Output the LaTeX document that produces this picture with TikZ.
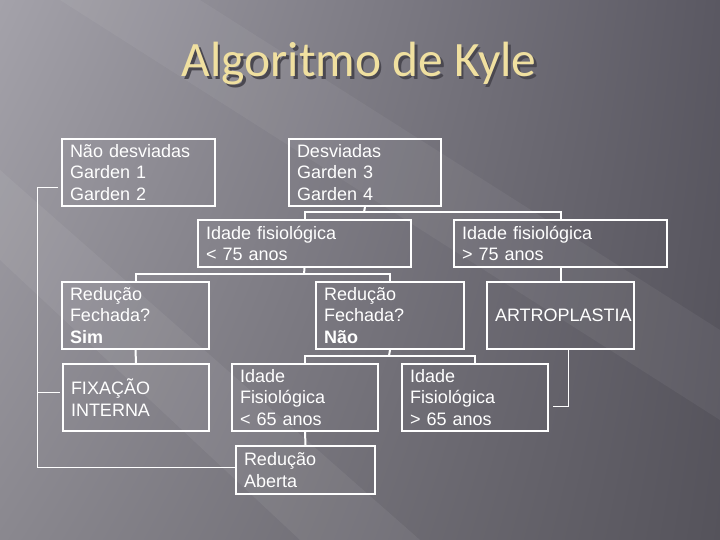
\documentclass[tikz,border=0pt]{standalone}
\usepackage{fontspec}
\setmainfont{Liberation Sans}
\newfontfamily\titlefont{Carlito}
\usetikzlibrary{positioning,shadings}
\definecolor{bgA}{HTML}{A4A2AA}
\definecolor{bgB}{HTML}{5A5862}
\definecolor{bgC}{HTML}{8A888F}
\definecolor{bgD}{HTML}{55535B}
\definecolor{titlecol}{HTML}{F0E0A0}
\definecolor{shadowcol}{HTML}{4A4850}
\tikzset{
  box/.style={draw=white, line width=2pt, text=white, anchor=north west,
    inner xsep=8pt, inner ysep=0pt, align=left,
    font=\fontsize{18}{21.5}\selectfont},
  link/.style={draw=white, line width=2pt},
  thinlink/.style={draw=white, line width=1pt},
}
\newcommand{\mybox}[6]{% name, left, top, right, bottom, text
  \pgfmathsetmacro{\bw}{#4-#2-16}\pgfmathsetmacro{\bh}{#5-#3}%
  \node[box, text width=\bw pt, minimum height=\bh pt] (#1) at (#2,#3) {#6};}
\newcommand{\shadowtext}[1]{\makebox[0pt][l]{\hspace{2.5pt}\raisebox{-2.5pt}{\textcolor{shadowcol}{#1}}}#1}
\begin{document}
\begin{tikzpicture}[x=1pt,y=-1pt]
\useasboundingbox (0,0) rectangle (720,540);
\shade[upper left=bgA, upper right=bgB, lower left=bgC, lower right=bgD] (0,0) rectangle (720,540);
\fill[white, opacity=0.06] (0,170) -- (0,260) -- (300,540) -- (420,540) -- cycle;
\fill[white, opacity=0.05] (60,0) -- (200,0) -- (720,330) -- (720,420) -- cycle;
% title
\node[text=titlecol, font=\titlefont\fontsize{49.5}{54}\selectfont, anchor=base, inner sep=0pt] (title) at (359,77) {\shadowtext{Algoritmo de Kyle}};
% boxes
\mybox{nd}{61}{138}{214}{205}{Não desviadas\\Garden 1\\Garden 2}
\mybox{dv}{288}{138}{440}{205}{Desviadas\\Garden 3\\Garden 4}
\mybox{ia}{197}{219}{410}{266}{Idade fisiológica\\< 75 anos}
\mybox{ib}{453}{219}{666}{266}{Idade fisiológica\\> 75 anos}
\mybox{rs}{61}{281}{208}{348}{Redução\\Fechada?\\\textbf{Sim}}
\mybox{rn}{315}{281}{463}{348}{Redução\\Fechada?\\\textbf{Não}}
\mybox{ar}{486}{281}{633}{348}{ARTROPLASTIA}
\mybox{fi}{62}{363}{208}{430}{FIXAÇÃO\\INTERNA}
\mybox{ic}{231}{363}{377}{430}{Idade\\Fisiológica\\< 65 anos}
\mybox{id}{401}{363}{547}{430}{Idade\\Fisiológica\\> 65 anos}
\mybox{ra}{235}{445}{374}{493}{Redução\\Aberta}
% connectors
\coordinate (j1) at (364,212);
\coordinate (j2) at (304,274);
\coordinate (j3) at (389,356);
\draw[link] (dv.south) -- (j1);
\draw[link] (ia.north) |- (j1) -| (ib.north);
\draw[link] (ia.south) -- (j2);
\draw[link] (rs.north) |- (j2) -| (rn.north);
\draw[link] (ib.south) -- (ar.north);
\draw[link] (rs.south) -- (fi.north);
\draw[link] (rn.south) -- (j3);
\draw[link] (ic.north) |- (j3) -| (id.north);
\draw[link] (ic.south) -- (ra.north);
\coordinate (ak) at (568,406);
\draw[thinlink] (ar.south -| ak) -- (ak) -- ([xshift=4pt]id.east |- ak);
% left bracket
\coordinate (b1) at (37,188);
\coordinate (b2) at (37,467);
\draw[thinlink] ([xshift=-3pt]nd.west |- b1) -- (b1) -- (b2) -- (ra.west |- b2);
\draw[thinlink] (37,392) coordinate (b3) -- ([xshift=-2pt]fi.west |- b3);
\end{tikzpicture}
\end{document}
